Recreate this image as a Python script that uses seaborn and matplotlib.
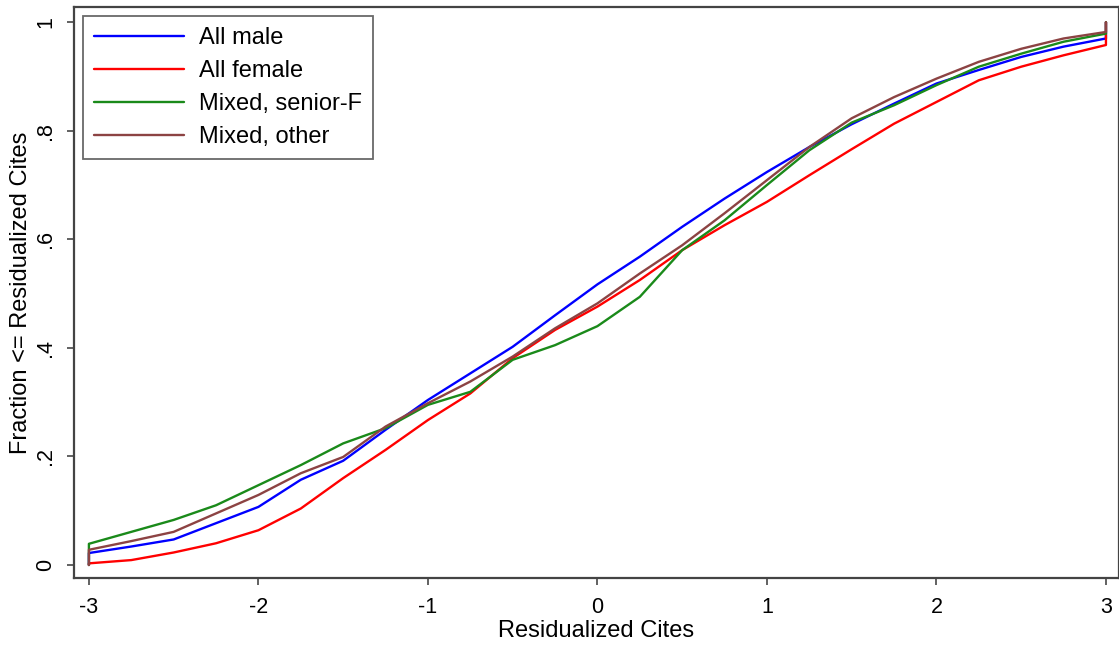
import numpy as np
import pandas as pd
import matplotlib
matplotlib.use('Agg')
import matplotlib.pyplot as plt
import seaborn as sns

# dados =======================================================================
x_grid = [-3.0, -2.75, -2.5, -2.25, -2.0, -1.75, -1.5, -1.25, -1.0, -0.75, -0.5, -0.25,
          0.0, 0.25, 0.5, 0.75, 1.0, 1.25, 1.5, 1.75, 2.0, 2.25, 2.5, 2.75, 3.0]

all_male = [0.022, 0.034, 0.047, 0.077, 0.107, 0.157, 0.192, 0.249, 0.304, 0.353, 0.402, 0.460,
            0.517, 0.568, 0.623, 0.675, 0.724, 0.770, 0.812, 0.850, 0.887, 0.912, 0.936, 0.955, 0.970]
all_female = [0.003, 0.009, 0.023, 0.040, 0.064, 0.104, 0.160, 0.212, 0.267, 0.316, 0.381, 0.433,
              0.476, 0.525, 0.580, 0.626, 0.669, 0.718, 0.766, 0.813, 0.853, 0.893, 0.918, 0.939, 0.958]
mixed_senior_f = [0.039, 0.061, 0.083, 0.110, 0.147, 0.184, 0.224, 0.252, 0.295, 0.319, 0.378, 0.405,
                  0.440, 0.494, 0.580, 0.635, 0.700, 0.764, 0.815, 0.847, 0.884, 0.918, 0.942, 0.964, 0.979]
mixed_other = [0.028, 0.044, 0.061, 0.095, 0.129, 0.169, 0.199, 0.255, 0.298, 0.338, 0.384, 0.436,
               0.482, 0.537, 0.589, 0.648, 0.709, 0.770, 0.823, 0.862, 0.896, 0.927, 0.951, 0.970, 0.982]

grupos = ['All male', 'All female', 'Mixed, senior-F', 'Mixed, other']
series = [all_male, all_female, mixed_senior_f, mixed_other]
cores = ['#0000ff', '#ff0000', '#1a8a1a', '#8c4343']

# cdf comeca em 0 e termina em 1 (degraus verticais nas pontas)
linhas = []
for g, s in zip(grupos, series):
    xs = [x_grid[0]] + x_grid + [x_grid[-1]]
    ys = [0.0] + s + [1.0]
    for a, b in zip(xs, ys):
        linhas.append({'grupo': g, 'x': a, 'F': b})
df = pd.DataFrame(linhas)

# figura ======================================================================
sns.set_theme(style='white')
plt.rcParams['font.family'] = ['Liberation Sans', 'DejaVu Sans']
plt.rcParams['text.color'] = 'black'
plt.rcParams['axes.labelcolor'] = 'black'

fig = plt.figure(figsize=(11.19, 6.51), dpi=100)
ax = fig.add_axes([74 / 1119, 73 / 651, 1 - 74 / 1119, 571 / 651])

sns.lineplot(data=df, x='x', y='F', hue='grupo', hue_order=grupos, palette=cores,
             estimator=None, sort=False, units='grupo', linewidth=1.7, ax=ax, legend=True)

ax.set_xlim(-3.088, 3.077)
ax.set_ylim(-0.024, 1.028)
ax.set_xticks([-3, -2, -1, 0, 1, 2, 3])
ax.set_xticklabels(['-3', '-2', '-1', '0', '1', '2', '3'])
ax.set_yticks([0, 0.2, 0.4, 0.6, 0.8, 1])
ax.set_yticklabels(['0', '.2', '.4', '.6', '.8', '1'], rotation=90, va='center')

for lado in ['left', 'bottom', 'top', 'right']:
    ax.spines[lado].set_color('#444444')
    ax.spines[lado].set_linewidth(1.6)
ax.tick_params(axis='both', direction='out', length=5, width=1.3, color='#555555',
               labelsize=15.5, labelcolor='black', pad=9)
ax.tick_params(axis='both', left=True, bottom=True)
ax.tick_params(axis='y', pad=8)

ax.set_xlabel('Residualized Cites', fontsize=17, labelpad=1)
ax.set_ylabel('Fraction <= Residualized Cites', fontsize=17, labelpad=2)

leg = ax.legend(loc='upper left', fontsize=17, frameon=True, fancybox=False,
                handlelength=3.8, handletextpad=0.65, labelspacing=0.47,
                borderpad=0.45, borderaxespad=0.4, title=None)
leg.get_frame().set_edgecolor('#444444')
leg.get_frame().set_linewidth(1.3)
for h in leg.get_lines():
    h.set_linewidth(1.7)

fig.savefig('out.png', dpi=100)
